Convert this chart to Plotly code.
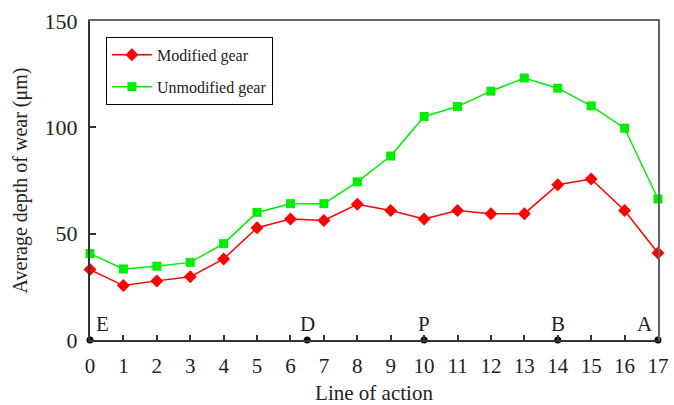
import plotly.graph_objects as go

# Positions along the line of action
positions = list(range(18))

# Average depth of wear (um)
modified_gear = [33.1, 25.6, 27.8, 29.7, 38.1, 52.8, 56.9, 56.2, 63.8, 60.9,
                 56.9, 60.9, 59.4, 59.4, 73.0, 75.7, 60.9, 40.9]
unmodified_gear = [40.6, 33.4, 34.7, 36.5, 45.3, 60.0, 64.1, 64.1, 74.4, 86.5,
                   105.1, 109.8, 117.0, 123.2, 118.4, 110.1, 99.6, 66.3]

# Characteristic points on the line of action
point_names = ["E", "D", "P", "B", "A"]
point_positions = [0, 6.5, 10, 14, 17]

serif = "Liberation Serif"
text_color = "#222222"

fig = go.Figure()

fig.add_trace(go.Scatter(
    x=positions, y=modified_gear, mode="lines+markers", name="Modified gear",
    legendgroup="mod",
    line=dict(color="#ff0000", width=1.5),
    marker=dict(symbol="diamond", size=10, color="#ff0000"),
    cliponaxis=False,
))
fig.add_trace(go.Scatter(
    x=positions, y=unmodified_gear, mode="lines+markers", name="Unmodified gear",
    legendgroup="unmod",
    line=dict(color="#00ee00", width=1.5),
    marker=dict(symbol="square", size=9, color="#00ee00"),
    cliponaxis=False,
))
fig.add_trace(go.Scatter(
    x=point_positions, y=[0] * len(point_positions), mode="markers",
    marker=dict(symbol="circle", size=7, color="black"),
    showlegend=False, cliponaxis=False,
))

for name, pos in zip(point_names, point_positions):
    anchor = "right" if pos == 17 else ("left" if pos == 0 else "center")
    fig.add_annotation(
        x=pos, y=0, text=name, showarrow=False,
        xanchor=anchor, yanchor="bottom",
        xshift=4 if pos == 0 else (-3 if pos == 17 else 0), yshift=2,
        font=dict(family=serif, size=21, color=text_color),
    )

fig.update_layout(
    width=674, height=405,
    margin=dict(l=90, r=16, t=21, b=65),
    paper_bgcolor="white", plot_bgcolor="white",
    font=dict(family=serif, size=21, color=text_color),
    showlegend=True,
    legend=dict(
        x=0.028, y=0.95, xanchor="left", yanchor="top",
        bordercolor="black", borderwidth=1, bgcolor="white",
        font=dict(family=serif, size=16, color=text_color),
        itemwidth=40, tracegroupgap=8,
    ),
    xaxis=dict(
        range=[0, 17], tickmode="array", tickvals=positions,
        ticks="inside", ticklen=5, tickcolor="#333333", tickwidth=1.5,
        showline=True, linecolor="#333333", linewidth=2, mirror=False,
        showgrid=False, zeroline=False, automargin=False,
        title=dict(text="Line of action", font=dict(family=serif, size=21), standoff=8),
        tickfont=dict(family=serif, size=21), ticklabelstandoff=6,
    ),
    xaxis2=dict(overlaying="x", range=[0, 17], side="top", showline=True,
                linecolor="#666666", linewidth=2, showticklabels=False,
                ticks="", showgrid=False, zeroline=False),
    yaxis=dict(
        range=[0, 150], tickvals=[0, 50, 100, 150],
        ticks="inside", ticklen=6, tickcolor="#333333", tickwidth=1.5,
        showline=True, linecolor="#333333", linewidth=2, mirror=False,
        showgrid=False, zeroline=False, automargin=False,
        title=dict(text="Average depth of wear (μm)", font=dict(family=serif, size=20), standoff=12),
        tickfont=dict(family=serif, size=22), ticklabelstandoff=6,
    ),
    yaxis2=dict(overlaying="y", range=[0, 150], side="right", showline=True,
                linecolor="#666666", linewidth=2, showticklabels=False,
                ticks="", showgrid=False, zeroline=False, anchor="x"),
)

# Invisible traces so the top and right frame lines are drawn
fig.add_trace(go.Scatter(x=[0], y=[0], xaxis="x2", yaxis="y", mode="markers",
                         marker=dict(opacity=0), showlegend=False, hoverinfo="skip"))
fig.add_trace(go.Scatter(x=[0], y=[0], xaxis="x", yaxis="y2", mode="markers",
                         marker=dict(opacity=0), showlegend=False, hoverinfo="skip"))

fig.write_html("out.html")
